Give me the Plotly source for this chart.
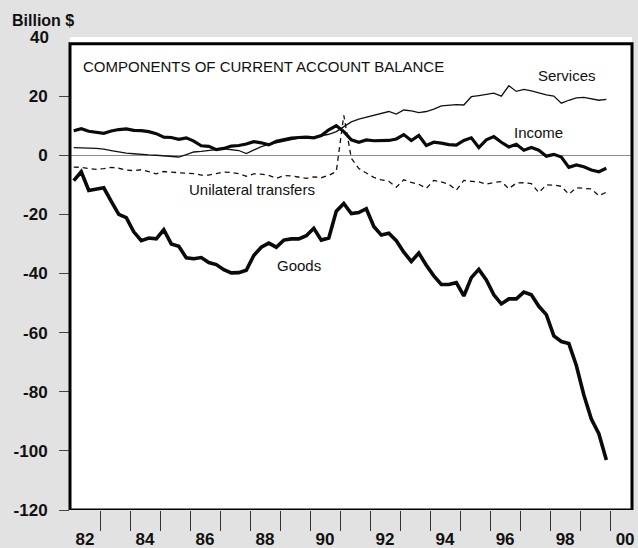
import plotly.graph_objects as go

# ---- data (billion $, quarterly 1982Q1 - 1999Q4) ----
years = list(range(1982, 2000))
quarters = [1, 2, 3, 4]

goods = [-8.6, -5.6, -11.9, -11.4, -11.0, -15.6, -20.0, -21.1, -25.9, -28.9, -28.0, -28.3,
         -25.2, -30.0, -30.8, -34.7, -35.0, -34.6, -36.3, -37.0, -38.7, -39.8, -39.7, -38.9,
         -33.9, -31.1, -29.7, -31.1, -28.7, -28.3, -28.3, -27.2, -24.7, -28.7, -28.0, -18.9,
         -16.3, -19.7, -19.4, -18.1, -24.1, -27.0, -26.4, -28.9, -32.8, -35.9, -33.1, -37.2,
         -40.8, -43.7, -43.7, -43.1, -47.6, -41.4, -38.6, -42.2, -47.2, -50.3, -48.6, -48.6,
         -46.3, -47.2, -51.1, -53.9, -61.1, -63.0, -63.7, -71.1, -81.1, -89.2, -94.2, -103.1]

services = [2.6, 2.6, 2.4, 2.3, 2.1, 1.6, 1.1, 0.7, 0.5, 0.2, 0.1, 0.0,
            -0.2, -0.6, -0.6, 0.2, 1.1, 1.3, 1.7, 1.9, 2.2, 2.0, 1.6, 0.6,
            1.8, 2.9, 3.7, 4.3, 4.8, 5.3, 5.8, 6.0, 6.1, 6.6, 7.1, 8.0,
            9.8, 11.3, 12.2, 12.8, 13.4, 14.0, 14.8, 13.9, 15.3, 15.0, 14.4, 14.8,
            15.6, 16.7, 16.9, 17.1, 17.0, 19.8, 20.2, 20.5, 21.0, 20.0, 23.5, 21.6,
            22.3, 21.8, 21.0, 20.4, 20.0, 17.6, 18.6, 19.4, 19.6, 19.2, 18.6, 18.9]

income = [8.3, 9.0, 8.1, 7.7, 7.4, 8.2, 8.7, 8.9, 8.4, 8.3, 8.0, 7.3,
          6.1, 6.0, 5.4, 5.9, 4.8, 3.2, 3.0, 1.9, 2.3, 3.1, 3.3, 3.8,
          4.6, 4.2, 3.5, 4.7, 5.2, 5.8, 6.0, 6.1, 5.9, 6.7, 8.6, 10.0,
          8.0, 5.2, 4.4, 5.2, 4.9, 5.0, 5.0, 5.5, 7.0, 5.0, 6.7, 3.3,
          4.4, 4.1, 3.6, 3.4, 5.0, 5.9, 2.6, 5.2, 6.3, 4.4, 2.8, 3.7,
          1.7, 2.6, 1.7, -0.3, 0.3, -0.6, -4.1, -3.3, -3.9, -5.0, -5.6, -4.4]

transfers = [-4.0, -4.1, -4.5, -4.8, -4.5, -4.1, -4.4, -5.0, -5.2, -4.9, -5.5, -6.3,
             -5.5, -5.6, -5.9, -6.1, -6.2, -6.7, -6.7, -6.2, -5.7, -5.8, -6.2, -7.1,
             -6.3, -6.4, -6.8, -7.8, -6.9, -7.0, -7.4, -7.8, -7.3, -7.6, -6.8, -5.5,
             13.5, -1.0, -4.5, -6.0, -7.5, -8.3, -8.8, -10.8, -8.3, -9.2, -9.8, -11.2,
             -8.5, -9.0, -9.8, -11.8, -8.5, -8.8, -9.0, -9.8, -9.2, -8.9, -11.3, -9.4,
             -9.3, -9.6, -12.6, -10.0, -10.1, -10.5, -13.2, -11.0, -11.2, -11.4, -13.7, -12.5]

y_ticks = [-120, -100, -80, -60, -40, -20, 0, 20]
x_label_years = [1982, 1984, 1986, 1988, 1990, 1992, 1994, 1996, 1998, 2000]
x_tick_years = list(range(1983, 2001))

# decimal-year position of each quarter (mid-quarter)
t = [y + (q - 1) / 4 + 0.125 for y in years for q in quarters]

FONT = "Liberation Sans, Arial, sans-serif"
BG = "#e2e2e2"
X_RANGE = [1982, 2000.73]

fig = go.Figure()
fig.add_trace(go.Scatter(x=t, y=services, mode="lines",
                         line=dict(color="#111111", width=1.3), name="Services"))
fig.add_trace(go.Scatter(x=t, y=transfers, mode="lines",
                         line=dict(color="#111111", width=1.3, dash="5px,4px"),
                         name="Unilateral transfers"))
fig.add_trace(go.Scatter(x=t, y=income, mode="lines",
                         line=dict(color="#0a0a0a", width=3.2), name="Income"))
fig.add_trace(go.Scatter(x=t, y=goods, mode="lines",
                         line=dict(color="#0a0a0a", width=3.6), name="Goods"))
# empty trace so the label axis (x2) is drawn
fig.add_trace(go.Scatter(x=[None], y=[None], xaxis="x2", yaxis="y",
                         mode="lines", hoverinfo="skip", showlegend=False))

# plot frame
fig.add_shape(type="rect", xref="paper", yref="y", x0=0, x1=1, y0=-120, y1=37.7,
              line=dict(color="black", width=3), layer="above")

ann = dict(showarrow=False, font=dict(family=FONT, size=15, color="#111"))
fig.add_annotation(x=1982.35, y=30.1, xref="x", yref="y", xanchor="left", yanchor="middle",
                   text="COMPONENTS OF CURRENT ACCOUNT BALANCE", **ann)
fig.add_annotation(x=1998.58, y=27.1, xref="x", yref="y", text="Services", **ann)
fig.add_annotation(x=1997.6, y=7.8, xref="x", yref="y", text="Income", **ann)
fig.add_annotation(x=1988.05, y=-11.5, xref="x", yref="y", text="Unilateral transfers", **ann)
fig.add_annotation(x=1989.64, y=-37.2, xref="x", yref="y", text="Goods", **ann)

bold = dict(family="Liberation Sans, Arial, sans-serif", size=17, color="#111")
fig.add_annotation(x=0, y=40, xref="paper", yref="y", xanchor="right", yanchor="middle",
                   xshift=-19, text="<b>40</b>", showarrow=False, font=bold)
fig.add_annotation(x=0, y=1, xref="paper", yref="paper", xanchor="left", yanchor="middle",
                   xshift=-60, yshift=17, text="<b>Billion $</b>", showarrow=False,
                   font=dict(family=FONT, size=16, color="#111"))

fig.update_layout(
    width=638, height=548,
    margin=dict(l=70, r=6, t=37, b=38, autoexpand=False),
    paper_bgcolor=BG,
    plot_bgcolor="white",
    showlegend=False,
    font=dict(family=FONT, color="#111"),
    xaxis=dict(
        range=X_RANGE, automargin=False,
        tickmode="array", tickvals=x_tick_years, ticktext=["" for _ in x_tick_years],
        ticks="outside", ticklen=20, tickwidth=1, tickcolor="#333",
        showgrid=False, zeroline=False, showline=False,
    ),
    xaxis2=dict(
        range=X_RANGE, automargin=False, overlaying="x", anchor="y", side="bottom",
        tickmode="array", tickvals=[y + 0.5 for y in x_label_years],
        ticktext=["<b>%02d</b>" % (y % 100) for y in x_label_years],
        ticks="outside", ticklen=14, tickcolor="rgba(0,0,0,0)",
        tickfont=bold,
        showgrid=False, zeroline=False, showline=False,
    ),
    yaxis=dict(
        range=[-120, 40], automargin=False,
        tickmode="array", tickvals=y_ticks,
        ticktext=["<b>%d</b>" % v for v in y_ticks],
        ticks="outside", ticklen=10, tickwidth=1, tickcolor="#444",
        ticklabelstandoff=8,
        tickfont=bold,
        showgrid=False, showline=False,
        zeroline=True, zerolinecolor="#8c8c8c", zerolinewidth=1.2,
    ),
)

fig.write_html(
    "out.html",
    config={"displayModeBar": False},
    post_script="document.body.style.margin='0';document.body.style.background='%s';" % BG,
)
